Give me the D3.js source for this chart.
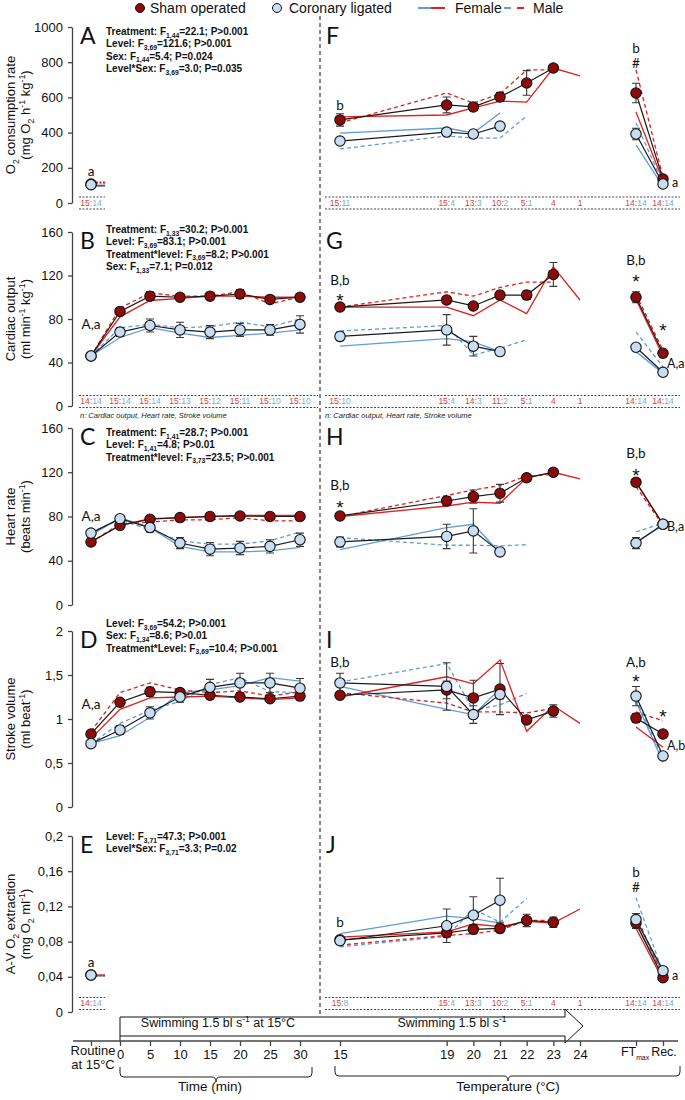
<!DOCTYPE html>
<html><head><meta charset="utf-8">
<script src="https://cdn.jsdelivr.net/npm/d3@7"></script>
<style>
body{margin:0;background:#fff}
svg{display:block;font-family:"Liberation Sans",Arial,sans-serif}
</style></head><body>
<svg id="chart" width="685" height="1100"></svg>
<script>
// x categories
const leftKeys = ["Routine", 0, 5, 10, 15, 20, 25, 30];
const rightKeys = [15, 19, 20, 21, 22, 23, 24, "FTmax", "Rec"];
const timeTicks = [0, 5, 10, 15, 20, 25, 30];
const tempTicks = [15, 19, 20, 21, 22, 23, 24];

// O2 consumption rate (A, F)
const o2SwimSham = [108], o2SwimShamSe = [8], o2SwimCor = [104], o2SwimCorSe = [9];
const o2SwimFemSham = [100], o2SwimMaleSham = [118], o2SwimFemCor = [95], o2SwimMaleCor = [110];
const o2TempSham = [472, 557, 546, 602, 682, 767, null, 625, 136];
const o2TempShamSe = [35, 45, 22, 25, 70, 0, null, 55, 10];
const o2TempCor = [352, 403, 392, 437, null, null, null, 392, 108];
const o2TempCorSe = [20, 12, 22, 0, null, null, null, 33, 10];
const o2TempFemSham = [489, 500, 540, 579, 573, 767, 722, 517, 125];
const o2TempMaleSham = [455, 625, 568, 620, 756, 756, null, 756, 145];
const o2TempFemCor = [397, 426, 398, 511, null, null, null, 330, 95];
const o2TempMaleCor = [307, 381, 369, 369, 494, null, null, 455, 112];
const o2NSwim = ["15:14"];
const o2NTemp = ["15:11", "15:4", "13:3", "10:2", "5:1", "4", "1", "14:14", "14:14"];

// Cardiac output (B, G)
const coSwimSham = [46, 87, 101, 100, 101, 103, 98, 100];
const coSwimShamSe = [2, 3, 4, 3, 3, 4, 3, 3];
const coSwimCor = [46, 68, 74, 70, 68, 70, 70, 75];
const coSwimCorSe = [2, 4, 6, 7, 6, 6, 5, 8];
const coSwimFemSham = [46, 82, 97, 99, 101, 101, 100, 100];
const coSwimMaleSham = [46, 90, 104, 101, 101, 105, 94, 100];
const coSwimFemCor = [46, 63, 72, 67, 63, 65, 67, 70];
const coSwimMaleCor = [46, 72, 75, 72, 73, 77, 73, 80];
const coTempSham = [91, 97.5, 92, 102, 102, 121, null, 100, 48.5];
const coTempShamSe = [1, 3, 3, 3.5, 4, 11, null, 5, 2];
const coTempCor = [64, 70, 55, 50, null, null, null, 54, 31];
const coTempCorSe = [4, 14, 9, 0, null, null, null, 3, 2];
const coTempFemSham = [91, 91, 83, 97.5, 85, 128, 97.5, 98, 46];
const coTempMaleSham = [91, 105, 101, 109, 114, 114, null, 103, 51];
const coTempFemCor = [55, 62, 59, 50, null, null, null, 50, 30];
const coTempMaleCor = [69, 74, 47, 53, 61, null, null, 68, 36];
const coNSwim = ["14:14", "15:14", "15:14", "15:13", "15:12", "15:11", "15:10", "15:10"];
const coNTemp = ["15:10", "15:4", "14:3", "11:2", "5:1", "4", "1", "14:14", "14:14"];

// Heart rate (C, H)
const hrSwimSham = [57, 72, 77.5, 79, 80, 80.5, 80, 80];
const hrSwimShamSe = [1.5, 2, 1.5, 1, 1, 1.5, 1.5, 1.5];
const hrSwimCor = [65, 78, 70, 56, 50.5, 51.5, 53, 59];
const hrSwimCorSe = [2, 2, 4, 5, 6, 6, 6, 6];
const hrSwimFemSham = [57, 72, 78, 79, 80, 81, 81, 81];
const hrSwimMaleSham = [57, 73, 75, 77, 77, 79, 76, 76];
const hrSwimFemCor = [63, 79, 70, 53, 48, 48, 49, 52];
const hrSwimMaleCor = [66, 77, 68, 58, 55, 55, 58, 66];
const hrTempSham = [80.5, 94, 98, 101, 115, 120, null, 111, 73];
const hrTempShamSe = [1, 4, 6, 8, 1.5, 0, null, 2, 1.5];
const hrTempCor = [57, 62, 67, 48, null, null, null, 56, 73];
const hrTempCorSe = [4.5, 11, 20, 2.5, null, null, null, 5, 1.5];
const hrTempFemSham = [80, 89.5, 93, 92, 115, 120, 114, 111, 73];
const hrTempMaleSham = [80, 99, 104, 108, 116.5, 118, null, 107, 72];
const hrTempFemCor = [50, 70, 73, 47, null, null, null, 57, 72];
const hrTempMaleCor = [61, 54, 54, 53.5, 54.5, null, null, 66, 74];

// Stroke volume (D, I)
const svSwimSham = [0.83, 1.19, 1.31, 1.30, 1.27, 1.25, 1.23, 1.26];
const svSwimShamSe = [0.03, 0.04, 0.05, 0.04, 0.04, 0.04, 0.03, 0.04];
const svSwimCor = [0.72, 0.875, 1.07, 1.25, 1.36, 1.41, 1.41, 1.35];
const svSwimCorSe = [0.02, 0.05, 0.07, 0.06, 0.09, 0.11, 0.11, 0.11];
const svSwimFemSham = [0.78, 1.11, 1.24, 1.25, 1.26, 1.24, 1.22, 1.24];
const svSwimMaleSham = [0.86, 1.30, 1.41, 1.33, 1.30, 1.32, 1.26, 1.31];
const svSwimFemCor = [0.72, 0.81, 1.02, 1.30, 1.33, 1.38, 1.47, 1.43];
const svSwimMaleCor = [0.72, 0.95, 1.10, 1.20, 1.39, 1.47, 1.31, 1.30];
const svTempSham = [1.27, 1.33, 1.24, 1.34, 0.99, 1.09, null, 1.01, 0.83];
const svTempShamSe = [0.03, 0.1, 0.2, 0.29, 0.04, 0.07, null, 0.05, 0.04];
const svTempCor = [1.41, 1.37, 1.05, 1.28, null, null, null, 1.26, 0.58];
const svTempCorSe = [0.11, 0.27, 0.1, 0.05, null, null, null, 0.11, 0.02];
const svTempFemSham = [1.25, 1.48, 1.40, 1.67, 0.86, 1.15, 0.95, 0.91, 0.68];
const svTempMaleSham = [1.30, 1.18, 1.08, 1.08, 1.07, 1.12, null, 1.08, 0.98];
const svTempFemCor = [1.37, 1.11, 1.05, 1.34, null, null, null, 1.2, 0.51];
const svTempMaleCor = [1.42, 1.63, 1.10, 1.16, 1.29, null, null, 1.22, 0.56];

// A-V O2 extraction (E, J)
const avSwimSham = [0.042], avSwimShamSe = [0.004], avSwimCor = [0.042], avSwimCorSe = [0.004];
const avSwimFemSham = [0.042], avSwimMaleSham = [0.041], avSwimFemCor = [0.041], avSwimMaleCor = [0.042];
const avTempSham = [0.082, 0.090, 0.094, 0.095, 0.104, 0.102, null, 0.101, 0.039];
const avTempShamSe = [0.003, 0.005, 0.005, 0.005, 0.007, 0.006, null, 0.006, 0.002];
const avTempCor = [0.081, 0.098, 0.110, 0.127, null, null, null, 0.105, 0.047];
const avTempCorSe = [0.004, 0.019, 0.021, 0.025, null, null, null, 0.007, 0.003];
const avTempFemSham = [0.085, 0.091, 0.100, 0.097, 0.103, 0.101, 0.117, 0.095, 0.036];
const avTempMaleSham = [0.076, 0.087, 0.089, 0.093, 0.104, 0.104, null, 0.110, 0.040];
const avTempFemCor = [0.089, 0.109, 0.106, 0.101, null, null, null, 0.100, 0.044];
const avTempMaleCor = [0.074, 0.086, 0.117, 0.102, 0.129, null, null, 0.130, 0.045];
const avNSwim = ["14:14"];
const avNTemp = ["15:8", "15:4", "13:3", "10:2", "5:1", "4", "1", "14:14", "14:14"];

// significance letters: [x key, y value, text, side]
const o2NotesSwim = [["Routine", 182, "a"]];
const o2NotesTemp = [[15, 557, "b"], ["FTmax", 881, "b"], ["FTmax", 795, "#"], ["Rec", 114, "a", "r"]];
const coNotesSwim = [["Routine", 75, "A,a"]];
const coNotesTemp = [[15, 116, "B,b"], [15, 100, "*"], ["FTmax", 134, "B,b"], ["FTmax", 117, "*"], ["Rec", 72, "*"], ["Rec", 39, "A,a", "r"]];
const hrNotesSwim = [["Routine", 80, "A,a"]];
const hrNotesTemp = [[15, 108.5, "B,b"], [15, 91, "*"], ["FTmax", 137, "B,b"], ["FTmax", 120, "*"], ["Rec", 71, "B,a", "r"]];
const svNotesSwim = [["Routine", 1.17, "A,a"]];
const svNotesTemp = [[15, 1.65, "B,b"], ["FTmax", 1.65, "A,b"], ["FTmax", 1.46, "*"], ["Rec", 1.06, "*"], ["Rec", 0.70, "A,b", "r"]];
const avNotesSwim = [["Routine", 0.057, "a"]];
const avNotesTemp = [[15, 0.102, "b"], ["FTmax", 0.159, "b"], ["FTmax", 0.142, "#"], ["Rec", 0.042, "a", "r"]];

const o2Stats = ["Treatment: F_{1,44}=22.1; P>0.001", "Level: F_{3,69}=121.6; P>0.001", "Sex: F_{1,44}=5.4; P=0.024", "Level*Sex: F_{3,69}=3.0; P=0.035"];
const coStats = ["Treatment: F_{1,33}=30.2; P>0.001", "Level: F_{3,69}=83.1; P>0.001", "Treatment*level: F_{3,69}=8.2; P>0.001", "Sex: F_{1,33}=7.1; P=0.012"];
const hrStats = ["Treatment: F_{1,41}=28.7; P>0.001", "Level: F_{1,41}=4.8; P>0.01", "Treatment*level: F_{3,73}=23.5; P>0.001"];
const svStats = ["Level: F_{3,69}=54.2; P>0.001", "Sex: F_{1,34}=8.6; P>0.01", "Treatment*Level: F_{3,69}=10.4; P>0.001"];
const avStats = ["Level: F_{3,71}=47.3; P>0.001", "Level*Sex: F_{3,71}=3.3; P=0.02"];

const o2Title = ["O_{2} consumption rate", "(mg O_{2} h^{-1} kg^{-1})"];
const coTitle = ["Cardiac output", "(ml min^{-1} kg^{-1})"];
const hrTitle = ["Heart rate", "(beats min^{-1})"];
const svTitle = ["Stroke volume", "(ml beat^{-1})"];
const avTitle = ["A-V O_{2} extraction", "(mg O_{2} ml^{-1})"];

const SHAM = "#8e0b0b", COR = "#c8dcf2", RED = "#e0201c", BLUE = "#5f9dd7";
const NRED = "#e33b32", NBLUE = "#74acdf";

const svg = d3.select("#chart");
const xTime = d3.scaleLinear().domain([0, 30]).range([120, 300]);
const xTemp = d3.scaleLinear().domain([15, 24]).range([340, 580]);
const xCat = d3.scaleOrdinal().domain(["Routine", "FTmax", "Rec"]).range([91, 636, 663]);
const xSwim = k => typeof k === "number" ? xTime(k) : xCat(k);
const xHeat = k => typeof k === "number" ? xTemp(k) : xCat(k);

// text with _{sub} and ^{sup}
function rich(sel, str, fs, ratio = 0.68) {
    let shift = 0;
    str.split(/([_^]\{[^}]*\})/).forEach(p => {
        if (!p) return;
        const m = p.match(/^([_^])\{(.*)\}$/);
        if (m) {
            const d = m[1] === "_" ? fs * 0.28 : -fs * 0.38;
            sel.append("tspan").attr("dy", d - shift).attr("font-size", fs * ratio).text(m[2]);
            shift = d;
        } else {
            sel.append("tspan").attr("dy", -shift).text(p);
            shift = 0;
        }
    });
}

const rows = [
    { letters: ["A", "F"], top: 27, bottom: 203, max: 1000, step: 200, title: o2Title, stats: o2Stats, statsY: 35,
      swim: { sham: o2SwimSham, shamSe: o2SwimShamSe, cor: o2SwimCor, corSe: o2SwimCorSe, femSham: o2SwimFemSham, maleSham: o2SwimMaleSham, femCor: o2SwimFemCor, maleCor: o2SwimMaleCor },
      heat: { sham: o2TempSham, shamSe: o2TempShamSe, cor: o2TempCor, corSe: o2TempCorSe, femSham: o2TempFemSham, maleSham: o2TempMaleSham, femCor: o2TempFemCor, maleCor: o2TempMaleCor },
      nSwim: o2NSwim, nTemp: o2NTemp, nY: 203, notes: [o2NotesSwim, o2NotesTemp] },
    { letters: ["B", "G"], top: 232, bottom: 406, max: 160, step: 40, title: coTitle, stats: coStats, statsY: 233,
      swim: { sham: coSwimSham, shamSe: coSwimShamSe, cor: coSwimCor, corSe: coSwimCorSe, femSham: coSwimFemSham, maleSham: coSwimMaleSham, femCor: coSwimFemCor, maleCor: coSwimMaleCor },
      heat: { sham: coTempSham, shamSe: coTempShamSe, cor: coTempCor, corSe: coTempCorSe, femSham: coTempFemSham, maleSham: coTempMaleSham, femCor: coTempFemCor, maleCor: coTempMaleCor },
      nSwim: coNSwim, nTemp: coNTemp, nY: 401.5, note: true, notes: [coNotesSwim, coNotesTemp] },
    { letters: ["C", "H"], top: 428, bottom: 605, max: 160, step: 40, title: hrTitle, stats: hrStats, statsY: 436,
      swim: { sham: hrSwimSham, shamSe: hrSwimShamSe, cor: hrSwimCor, corSe: hrSwimCorSe, femSham: hrSwimFemSham, maleSham: hrSwimMaleSham, femCor: hrSwimFemCor, maleCor: hrSwimMaleCor },
      heat: { sham: hrTempSham, shamSe: hrTempShamSe, cor: hrTempCor, corSe: hrTempCorSe, femSham: hrTempFemSham, maleSham: hrTempMaleSham, femCor: hrTempFemCor, maleCor: hrTempMaleCor },
      notes: [hrNotesSwim, hrNotesTemp] },
    { letters: ["D", "I"], top: 631, bottom: 807, max: 2, step: 0.5, title: svTitle, stats: svStats, statsY: 627,
      swim: { sham: svSwimSham, shamSe: svSwimShamSe, cor: svSwimCor, corSe: svSwimCorSe, femSham: svSwimFemSham, maleSham: svSwimMaleSham, femCor: svSwimFemCor, maleCor: svSwimMaleCor },
      heat: { sham: svTempSham, shamSe: svTempShamSe, cor: svTempCor, corSe: svTempCorSe, femSham: svTempFemSham, maleSham: svTempMaleSham, femCor: svTempFemCor, maleCor: svTempMaleCor },
      notes: [svNotesSwim, svNotesTemp] },
    { letters: ["E", "J"], top: 836, bottom: 1012, max: 0.2, step: 0.04, title: avTitle, stats: avStats, statsY: 840,
      swim: { sham: avSwimSham, shamSe: avSwimShamSe, cor: avSwimCor, corSe: avSwimCorSe, femSham: avSwimFemSham, maleSham: avSwimMaleSham, femCor: avSwimFemCor, maleCor: avSwimMaleCor },
      heat: { sham: avTempSham, shamSe: avTempShamSe, cor: avTempCor, corSe: avTempCorSe, femSham: avTempFemSham, maleSham: avTempMaleSham, femCor: avTempFemCor, maleCor: avTempMaleCor },
      nSwim: avNSwim, nTemp: avNTemp, nY: 1003.5, notes: [avNotesSwim, avNotesTemp] }
];

function drawSeries(g, keys, x, y, s, segs) {
    const pts = arr => keys.map((k, i) => ({ k, v: arr[i] }));
    const line = d3.line().defined(d => d.v != null).x(d => x(d.k)).y(d => y(d.v));
    const sexLines = [[s.femCor, BLUE, false], [s.maleCor, BLUE, true], [s.femSham, RED, false], [s.maleSham, RED, true]];
    if (keys.length === 1) {
        // only routine measured: sex means drawn as short marks beside the point
        const x0 = x(keys[0]);
        sexLines.forEach(([arr, c, dash]) => g.append("line")
            .attr("x1", x0 + 5).attr("x2", x0 + 14).attr("y1", y(arr[0])).attr("y2", y(arr[0]))
            .attr("stroke", c).attr("stroke-width", 1.3).attr("stroke-dasharray", dash ? "2,1.5" : null));
    } else {
        segs.forEach(([a, b]) => {
            sexLines.forEach(([arr, c, dash]) => g.append("path")
                .attr("d", line(pts(arr).slice(a, b))).attr("fill", "none")
                .attr("stroke", c).attr("stroke-width", 1.3).attr("stroke-dasharray", dash ? "4,3" : null));
            [s.sham, s.cor].forEach(arr => g.append("path")
                .attr("d", line(pts(arr).slice(a, b))).attr("fill", "none")
                .attr("stroke", "#1a1a1a").attr("stroke-width", 1.2));
        });
    }
    [[s.sham, s.shamSe], [s.cor, s.corSe]].forEach(([arr, se]) => {
        pts(arr).forEach((d, i) => {
            if (d.v == null || !se[i]) return;
            const cx = x(d.k), y1 = y(d.v - se[i]), y2 = y(d.v + se[i]);
            g.append("path").attr("d", `M${cx},${y1}V${y2}M${cx - 4},${y1}H${cx + 4}M${cx - 4},${y2}H${cx + 4}`)
                .attr("fill", "none").attr("stroke", "#3a3a3a").attr("stroke-width", 1.1);
        });
    });
    [[s.sham, SHAM], [s.cor, COR]].forEach(([arr, fill]) => {
        g.selectAll(null).data(pts(arr).filter(d => d.v != null)).join("circle")
            .attr("cx", d => x(d.k)).attr("cy", d => y(d.v)).attr("r", 5.2)
            .attr("fill", fill).attr("stroke", "#111").attr("stroke-width", 1.1);
    });
}

function drawN(g, keys, x, labels, yc, x1, x2) {
    [yc - 6, yc + 6].forEach(yy => g.append("line").attr("x1", x1).attr("x2", x2).attr("y1", yy).attr("y2", yy)
        .attr("stroke", "#333").attr("stroke-width", 0.9).attr("stroke-dasharray", "2,1.5"));
    labels.forEach((lab, i) => {
        const [f, m] = lab.split(":");
        const t = g.append("text").attr("x", x(keys[i])).attr("y", yc).attr("dy", "0.35em")
            .attr("text-anchor", "middle").attr("font-size", 8.5);
        t.append("tspan").attr("fill", NRED).text(f);
        if (m) {
            t.append("tspan").attr("fill", "#666").text(":");
            t.append("tspan").attr("fill", NBLUE).text(m);
        }
    });
}

function drawNotes(g, notes, x, y) {
    notes.forEach(([k, v, txt, side]) => {
        const star = txt === "*";
        const off = txt.length === 1 ? 9 : 4;
        g.append("text")
            .attr("x", side === "r" ? x(k) + off : x(k)).attr("y", y(v))
            .attr("dy", star ? "0.5em" : "0.36em")
            .attr("text-anchor", side === "r" ? "start" : "middle")
            .attr("font-family", star ? "Liberation Sans, Arial, sans-serif" : "Lato, 'Open Sans', sans-serif")
            .attr("font-size", star ? 19 : (side === "r" ? 12.5 : 13.5)).attr("fill", "#111").text(txt);
    });
}

rows.forEach(r => {
    const y = d3.scaleLinear().domain([0, r.max]).range([r.bottom, r.top]);
    const g = svg.append("g");
    const ax = g.append("g").attr("transform", "translate(72,0)")
        .call(d3.axisLeft(y).tickValues(d3.range(0, r.max + r.step / 2, r.step))
            .tickSize(4).tickPadding(5).tickSizeOuter(0)
            .tickFormat(d => String(+d.toFixed(3)).replace(".", ",")));
    ax.select(".domain").attr("stroke", "#444").attr("stroke-width", 1.3);
    ax.selectAll(".tick line").attr("stroke", "#444").attr("stroke-width", 1.3);
    ax.selectAll(".tick text").attr("font-size", 13).attr("font-family", "Liberation Sans, Arial, sans-serif").attr("fill", "#111");

    const mid = (r.top + r.bottom) / 2;
    r.title.forEach((t, i) => {
        const tx = g.append("text").attr("transform", `translate(${i ? 30 : 15},${mid}) rotate(-90)`)
            .attr("text-anchor", "middle").attr("font-size", 13).attr("fill", "#111");
        rich(tx, t, 13);
    });

    r.letters.forEach((L, i) => g.append("text").attr("x", i ? 326 : 80).attr("y", r.top + 17)
        .attr("font-family", "Lato, sans-serif").attr("font-size", 23).attr("fill", "#111").text(L));

    r.stats.forEach((s, i) => {
        const t = g.append("text").attr("x", 106).attr("y", r.statsY + i * 12.3).attr("dy", "0.35em")
            .attr("font-size", 10).attr("font-weight", "bold").attr("fill", "#111");
        rich(t, s, 10);
    });

    const swimKeys = leftKeys.slice(0, r.swim.sham.length);
    drawSeries(g, swimKeys, xSwim, y, r.swim, [[0, swimKeys.length]]);
    drawSeries(g, rightKeys, xHeat, y, r.heat, [[0, 7], [7, 9]]);

    if (r.nSwim) {
        drawN(g, swimKeys, xSwim, r.nSwim, r.nY, 79, swimKeys.length > 1 ? 318 : 105);
        drawN(g, rightKeys, xHeat, r.nTemp, r.nY, 325, 680);
    }
    if (r.note) {
        [80, 325].forEach(nx => g.append("text").attr("x", nx).attr("y", r.nY + 16)
            .attr("font-size", 7.5).attr("font-style", "italic").attr("fill", "#222")
            .text("n: Cardiac output, Heart rate, Stroke volume"));
    }
    drawNotes(g, r.notes[0], xSwim, y);
    drawNotes(g, r.notes[1], xHeat, y);
});

// divider between the two protocols
svg.append("line").attr("x1", 320).attr("x2", 320).attr("y1", 16).attr("y2", 1017)
    .attr("stroke", "#111").attr("stroke-width", 1).attr("stroke-dasharray", "4,3");

// bottom x axis
const axisY = 1041;
svg.append("path")
    .attr("d", `M${xTime(0)},${axisY}V1017H565V1009L583,1026L565,1043V1036H${xTime(0)}`)
    .attr("fill", "#fff").attr("stroke", "#111").attr("stroke-width", 1);
svg.append("line").attr("x1", 73).attr("x2", 678).attr("y1", axisY).attr("y2", axisY)
    .attr("stroke", "#444").attr("stroke-width", 1.3);
const styleAxis = a => {
    a.select(".domain").remove();
    a.selectAll(".tick line").attr("stroke", "#444").attr("stroke-width", 1.3);
    a.selectAll(".tick text").attr("font-size", 13).attr("font-family", "Liberation Sans, Arial, sans-serif").attr("fill", "#111");
};
svg.append("g").attr("transform", `translate(0,${axisY})`)
    .call(d3.axisBottom(xTime).tickValues(timeTicks).tickSize(5).tickPadding(4)).call(styleAxis);
svg.append("g").attr("transform", `translate(0,${axisY})`)
    .call(d3.axisBottom(xTemp).tickValues(tempTicks).tickSize(5).tickPadding(4)).call(styleAxis);
svg.append("g").attr("transform", `translate(0,${axisY})`)
    .call(d3.axisBottom(xCat).tickSize(5).tickFormat(() => "")).call(styleAxis);

const lab = (x, yy, str, fs, ratio) => {
    const t = svg.append("text").attr("x", x).attr("y", yy).attr("dy", "0.35em").attr("text-anchor", "middle")
        .attr("font-size", fs).attr("fill", "#111");
    rich(t, str, fs, ratio);
};
lab(xCat("Routine") + 2, 1055, "Routine", 13);
lab(xCat("Routine") + 2, 1069, "at 15°C", 13);
lab(xCat("FTmax") - 1, 1056, "FT_{max}", 12.5, 0.55);
lab(xCat("Rec") + 1, 1056, "Rec.", 12.5);
lab(218, 1027, "Swimming 1.5 bl s^{-1} at 15°C", 12.5);
lab(452, 1027, "Swimming 1.5 bl s^{-1}", 12.5);
lab(210, 1091, "Time (min)", 13.5);
lab(508, 1091, "Temperature (°C)", 13.5);

// curly braces under the two x ranges
const brace = (x1, x2, xm, y0) => `M${x1},${y0}V${y0 + 6}Q${x1},${y0 + 10} ${x1 + 4},${y0 + 10}H${xm - 4}Q${xm},${y0 + 10} ${xm},${y0 + 15}` +
    `Q${xm},${y0 + 10} ${xm + 4},${y0 + 10}H${x2 - 4}Q${x2},${y0 + 10} ${x2},${y0 + 6}V${y0}`;
svg.append("path").attr("d", brace(xTime(0), 312, 216, 1067)).attr("fill", "none").attr("stroke", "#222");
svg.append("path").attr("d", brace(335, 680, 508, 1066)).attr("fill", "none").attr("stroke", "#222");

// legend
const lg = svg.append("g").attr("font-size", 14).attr("fill", "#111");
lg.append("circle").attr("cx", 140).attr("cy", 8).attr("r", 4.5).attr("fill", SHAM).attr("stroke", "#111");
lg.append("text").attr("x", 150).attr("y", 8).attr("dy", "0.35em").text("Sham operated");
lg.append("circle").attr("cx", 277).attr("cy", 8).attr("r", 4.5).attr("fill", COR).attr("stroke", "#111");
lg.append("text").attr("x", 289).attr("y", 8).attr("dy", "0.35em").text("Coronary ligated");
lg.append("line").attr("x1", 418).attr("x2", 431).attr("y1", 8).attr("y2", 8).attr("stroke", BLUE).attr("stroke-width", 2);
lg.append("line").attr("x1", 431).attr("x2", 445).attr("y1", 8).attr("y2", 8).attr("stroke", RED).attr("stroke-width", 2);
lg.append("text").attr("x", 455).attr("y", 8).attr("dy", "0.35em").text("Female");
lg.append("line").attr("x1", 504).attr("x2", 511).attr("y1", 8).attr("y2", 8).attr("stroke", BLUE).attr("stroke-width", 2);
lg.append("line").attr("x1", 517).attr("x2", 524).attr("y1", 8).attr("y2", 8).attr("stroke", RED).attr("stroke-width", 2);
lg.append("text").attr("x", 533).attr("y", 8).attr("dy", "0.35em").text("Male");
</script></body></html>
